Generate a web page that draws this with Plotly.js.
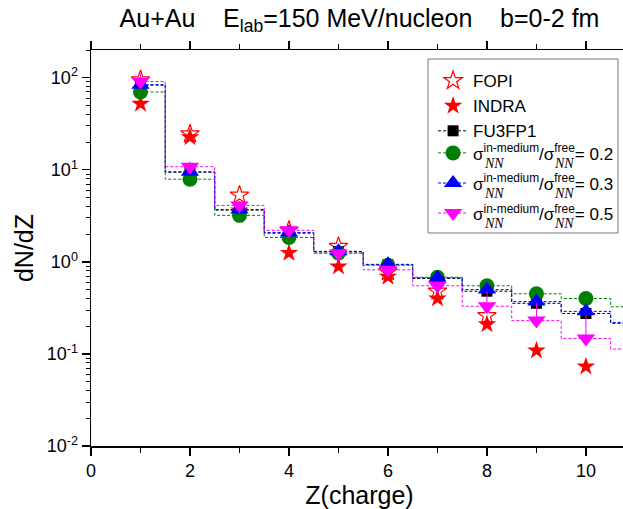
<!DOCTYPE html>
<html>
<head>
<meta charset="utf-8">
<script src="https://cdn.plot.ly/plotly-3.0.1.min.js"></script>
<style>
html,body{margin:0;padding:0;overflow:hidden;background:#fff;}
#chart{width:640px;height:509px;}
</style>
</head>
<body>
<div id="chart"></div>
<script>
// ---- data ----
const Zexp = [1, 2, 3, 4, 5, 6, 7, 8, 9, 10];
const fopi = [95, 24.5, 5.3, 2.2, 1.47, 0.78, 0.48, 0.26, null, null];
const indra = [52, 22.5, 3.6, 1.25, 0.89, 0.69, 0.40, 0.21, 0.109, 0.073];

const Zmod = [1, 2, 3, 4, 5, 6, 7, 8, 9, 10, 11];
const fu3fp1 = [83, 9.4, 3.65, 2.05, 1.29, 0.93, 0.66, 0.48, 0.355, 0.275, 0.215];
const ratio02 = [70, 7.9, 3.2, 1.84, 1.25, 0.92, 0.68, 0.55, 0.45, 0.40, 0.325];
const ratio03 = [84, 9.5, 3.7, 2.08, 1.30, 0.94, 0.67, 0.50, 0.37, 0.29, 0.22];
const ratio05 = [91, 10.8, 4.1, 2.2, 1.24, 0.82, 0.55, 0.33, 0.23, 0.147, 0.113];
const ratio05errUp = [20, 1.5, 0, 0, 0, 0, 0, 0.15, 0.13, 0.12, 0];

const seriesNames = ['FOPI', 'INDRA', 'FU3FP1',
  'σ<sup>in-medium</sup>/σ<sup>free</sup>= 0.2',
  'σ<sup>in-medium</sup>/σ<sup>free</sup>= 0.3',
  'σ<sup>in-medium</sup>/σ<sup>free</sup>= 0.5'];
const subscriptText = 'NN';

const yTickVals = [0.01, 0.1, 1, 10, 100];
const yTickText = ['10<sup>-2</sup>', '10<sup>-1</sup>', '10<sup>0</sup>', '10<sup>1</sup>', '10<sup>2</sup>'];

// minor ticks 2..9 per decade
const yMinor = [];
yTickVals.forEach(d => { for (let k = 2; k <= 9; k++) { const v = d * k; if (v <= 200) yMinor.push(v); } });

const FONT = 'Liberation Sans, Arial, sans-serif';
const dashStyle = '3px,2px';

const traces = [
  {x: Zexp, y: fopi, name: seriesNames[0], mode: 'markers', legend: 'legend',
   marker: {symbol: 'star-open', size: 14, color: '#ff0000', line: {width: 1.2, color: '#ff0000'}}},
  {x: Zexp, y: indra, name: seriesNames[1], mode: 'markers', legend: 'legend',
   marker: {symbol: 'star', size: 14, color: '#ff0000', line: {width: 0}}},
  {x: Zmod, y: fu3fp1, name: seriesNames[2], mode: 'lines+markers', legend: 'legend',
   line: {shape: 'hvh', dash: dashStyle, width: 1, color: '#000000'},
   marker: {symbol: 'square', size: 11, color: '#000000'}},
  {x: Zmod, y: ratio02, name: seriesNames[3], mode: 'lines+markers', legend: 'legend2', legendgroup: 'g2',
   line: {shape: 'hvh', dash: dashStyle, width: 1, color: '#008000'},
   marker: {symbol: 'circle', size: 15, color: '#008000'}},
  {x: Zmod, y: ratio03, name: seriesNames[4], mode: 'lines+markers', legend: 'legend2', legendgroup: 'g3',
   line: {shape: 'hvh', dash: dashStyle, width: 1, color: '#0000ff'},
   marker: {symbol: 'triangle-up', size: 16, color: '#0000ff'}},
  {x: Zmod, y: ratio05, name: seriesNames[5], mode: 'lines+markers', legend: 'legend2', legendgroup: 'g5',
   line: {shape: 'hvh', dash: dashStyle, width: 1, color: '#ff00ff'},
   marker: {symbol: 'triangle-down', size: 16, color: '#ff00ff'},
   error_y: {type: 'data', symmetric: false, array: ratio05errUp, arrayminus: ratio05errUp.map(() => 0),
             color: '#ff00ff', thickness: 1, width: 0}}
];

// ---- placement of the NN subscripts under the σ symbols of the legend text ----
const M = {l: 91, r: 12, t: 50, b: 63}, W = 640, H = 509;
const plotW = W - M.l - M.r, plotH = H - M.t - M.b;
const legX = 0.637, leg2Y = 0.7845;
const legFont = 17;
const cv = document.createElement('canvas').getContext('2d');
function tw(str, size) { cv.font = size + 'px "Liberation Sans", Arial, sans-serif'; return cv.measureText(str).width; }
const textX = M.l + legX * plotW + 40;             // legend text start (item width 30 + gaps)
const wSigma = tw('σ', legFont);
const wSup1 = tw('in-medium', legFont * 0.7);
const wSlash = tw('/σ', legFont);
const nnX = [textX + wSigma, textX + wSigma + wSup1 + wSlash];
const leg2Top = M.t + (1 - leg2Y) * plotH;
const rowStep = legFont * 1.3 + 3 + 5;              // item height + tracegroupgap
const subAnns = [];
for (let r = 0; r < 3; r++) {
  const rowCenter = leg2Top + 17 + r * rowStep;
  nnX.forEach(px => {
    subAnns.push({xref: 'paper', yref: 'paper', x: (px - M.l) / plotW, y: 1 - (rowCenter + 11 - M.t) / plotH,
                  xanchor: 'left', yanchor: 'middle', showarrow: false, borderpad: 0, borderwidth: 0,
                  text: '<i>' + subscriptText + '</i>',
                  font: {family: 'Liberation Serif, Times New Roman, serif', size: 14, color: '#000'}});
  });
}

const legendCommon = {xanchor: 'left', yanchor: 'top', xref: 'paper', yref: 'paper',
  bgcolor: 'rgba(0,0,0,0)', borderwidth: 0, font: {size: legFont, family: FONT, color: '#000'}, itemwidth: 30};

const layout = {
  width: W, height: H,
  margin: M,
  paper_bgcolor: '#ffffff', plot_bgcolor: '#ffffff',
  font: {family: FONT, color: '#000000', size: 18},
  showlegend: true,
  title: {text: 'Au+Au\u00a0\u00a0\u00a0\u00a0E<sub>lab</sub>=150 MeV/nucleon\u00a0\u00a0\u00a0\u00a0b=0-2 fm',
          x: 0.5, xref: 'paper', xanchor: 'center', y: 0.981, yref: 'container', yanchor: 'top',
          font: {family: FONT, size: 25, color: '#000'}},
  xaxis: {range: [0, 10.85], dtick: 2, tick0: 0, showgrid: false, zeroline: false,
          showline: true, linecolor: '#000', linewidth: 1.5, mirror: 'ticks',
          ticks: 'outside', ticklen: 8, tickwidth: 1.3, tickcolor: '#000',
          minor: {dtick: 1, ticks: 'outside', ticklen: 5, tickwidth: 1, tickcolor: '#000', showgrid: false},
          tickfont: {size: 18, family: FONT},
          title: {text: 'Z(charge)', font: {size: 25, family: FONT}, standoff: 7}},
  yaxis: {type: 'log', range: [-2, Math.log10(200)], tickmode: 'array', tickvals: yTickVals, ticktext: yTickText,
          showgrid: false, zeroline: false,
          showline: true, linecolor: '#000', linewidth: 1.5, mirror: 'ticks',
          ticks: 'outside', ticklen: 8, tickwidth: 1.3, tickcolor: '#000',
          minor: {tickmode: 'array', tickvals: yMinor, ticks: 'outside', ticklen: 4, tickwidth: 1, tickcolor: '#000', showgrid: false},
          tickfont: {size: 18, family: FONT},
          title: {text: 'dN/dZ', font: {size: 25, family: FONT}, standoff: 6}},
  legend: Object.assign({}, legendCommon, {x: legX, y: 0.967, tracegroupgap: 0}),
  legend2: Object.assign({}, legendCommon, {x: legX, y: leg2Y, tracegroupgap: 5}),
  shapes: [{type: 'rect', xref: 'paper', yref: 'paper', x0: 0.6276, x1: 0.9814, y0: 0.5379, y1: 0.9773,
            line: {color: '#777777', width: 1}, fillcolor: '#ffffff', layer: 'above'}],
  annotations: subAnns
};

Plotly.newPlot('chart', traces, layout, {displayModeBar: false, staticPlot: true});
</script>
</body>
</html>
